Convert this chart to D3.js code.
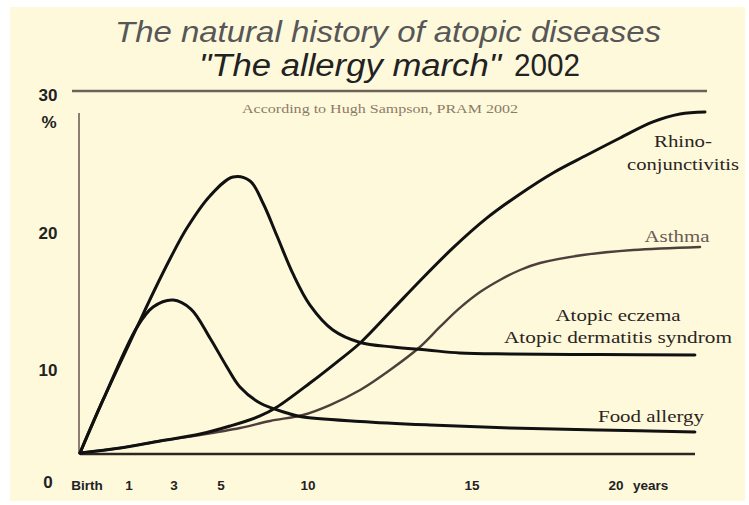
<!DOCTYPE html>
<html><head><meta charset="utf-8">
<script src="https://cdn.jsdelivr.net/npm/d3@7"></script>
<style>html,body{margin:0;padding:0;background:#fff;} svg{display:block}</style>
</head><body>
<svg id="c" width="749" height="505"></svg>
<script>
// ---- data ----
const ageTicks = [0, 1, 3, 5, 10, 15, 20];
const ageTickLabels = ["Birth", "1", "3", "5", "10", "15", "20"];
const pctTicks = [0, 10, 20, 30];
const pctTickLabels = ["0", "10", "20", "30"];

// [age in years, prevalence %]
const eczema = [[0,0],[0.47,6.39],[1.36,13.14],[2.07,15.62],[2.82,18.1],[3.55,20.35],[4.53,22.61],[5.69,23.94],[6.67,23.66],[7.41,22.11],[8.22,19.78],[9.14,17.01],[10.06,14.74],[10.76,12.92],[11.59,12.01],[12.59,11.68],[13.63,11.46],[14.63,11.24],[16.32,11.17],[19.44,11.13],[22.74,11.1]];
const foodAllergy = [[0,0],[0.47,6.39],[1.36,13.14],[2.07,14.6],[2.96,15.11],[3.72,14.45],[4.53,12.34],[5.34,10.22],[6.09,7.95],[7.24,6.02],[8.79,4.82],[9.54,4.4],[11.59,3.8],[13.72,3.37],[16.32,3.01],[19.44,2.77],[22.74,2.53]];
const rhino = [[0,0],[0.82,0.6],[2.38,1.45],[4.11,2.29],[5.52,3.25],[7.24,4.46],[8.22,5.54],[10.06,8.43],[10.88,10.58],[11.59,11.97],[12.59,14.45],[13.41,16.5],[14.42,18.91],[15.52,21.06],[16.67,22.75],[17.81,24.23],[18.99,25.49],[20.14,26.69],[21.28,27.82],[22.22,28.38],[23.09,28.52]];
const asthma = [[0,0],[0.82,0.6],[2.38,1.45],[4.11,2.17],[6.09,3.01],[7.82,3.86],[9.71,4.58],[10.67,5.78],[11.59,7.59],[12.5,10],[13.41,11.68],[14.02,13.14],[14.63,14.53],[15.28,15.69],[15.97,16.57],[16.67,17.3],[17.36,17.81],[18.85,18.39],[20.59,18.76],[22.92,18.98]];

const titleLine1 = "The natural history of atopic diseases";
const titleLine2a = "\"The allergy march\"";
const titleLine2b = "2002";
const subtitle = "According to Hugh Sampson, PRAM 2002";

// ---- scales ----
const svg = d3.select("#c");
const x = d3.scaleLinear().domain(ageTicks).range([80, 129, 174, 221, 308, 472, 616]);
const y = d3.scaleLinear().domain(pctTicks).range([453, 370, 233, 91]);

// background
svg.append("rect").attr("x", 0).attr("y", 0).attr("width", 749).attr("height", 505).attr("fill", "#ffffff");
svg.append("rect").attr("x", 10).attr("y", 7).attr("width", 735).attr("height", 494).attr("fill", "#fff9dc");

// titles
svg.append("text").attr("x", 388).attr("y", 42).attr("text-anchor", "middle")
  .attr("font-family", "Liberation Sans, Arial, sans-serif").attr("font-style", "italic")
  .attr("font-size", 30).attr("fill", "#575757")
  .attr("textLength", 546).attr("lengthAdjust", "spacingAndGlyphs").text(titleLine1);
svg.append("text").attr("x", 350).attr("y", 76).attr("text-anchor", "middle")
  .attr("font-family", "Liberation Sans, Arial, sans-serif").attr("font-style", "italic")
  .attr("font-size", 31).attr("fill", "#222")
  .attr("textLength", 302).attr("lengthAdjust", "spacingAndGlyphs").text(titleLine2a);
svg.append("text").attr("x", 547).attr("y", 76).attr("text-anchor", "middle")
  .attr("font-family", "Liberation Sans, Arial, sans-serif")
  .attr("font-size", 31).attr("fill", "#222")
  .attr("textLength", 66).attr("lengthAdjust", "spacingAndGlyphs").text(titleLine2b);

// top rule at 30%
svg.append("line").attr("x1", 72).attr("x2", 707).attr("y1", y(30)).attr("y2", y(30))
  .attr("stroke", "#6e6258").attr("stroke-width", 2.5);

svg.append("text").attr("x", 380).attr("y", 113).attr("text-anchor", "middle")
  .attr("font-family", "Liberation Serif, Times New Roman, serif")
  .attr("font-size", 12.5).attr("fill", "#8d7b66")
  .attr("textLength", 276).attr("lengthAdjust", "spacingAndGlyphs").text(subtitle);

// y axis line
svg.append("line").attr("x1", 79).attr("x2", 79).attr("y1", 113).attr("y2", y(0))
  .attr("stroke", "#8c7f72").attr("stroke-width", 2);
// baseline
svg.append("line").attr("x1", x(0)).attr("x2", 695).attr("y1", y(0) + 1).attr("y2", y(0) + 1)
  .attr("stroke", "#2e2620").attr("stroke-width", 2.5);

// y tick labels
const yl = svg.append("g").attr("font-family", "Liberation Sans, Arial, sans-serif")
  .attr("font-weight", "bold").attr("font-size", 17).attr("fill", "#222").attr("text-anchor", "middle");
pctTicks.forEach((v, i) => {
  const ty = v === 0 ? 482 : (v === 30 ? y(v) + 4 : y(v));
  yl.append("text").attr("x", 48).attr("y", ty).attr("dy", "0.36em").text(pctTickLabels[i]);
});
yl.append("text").attr("x", 49).attr("y", y(30) + 31).attr("dy", "0.36em").text("%");

// x tick labels
const xl = svg.append("g").attr("font-family", "Liberation Sans, Arial, sans-serif")
  .attr("font-weight", "bold").attr("font-size", 13.5).attr("fill", "#222").attr("text-anchor", "middle");
ageTicks.forEach((a, i) => {
  xl.append("text").attr("x", x(a) + (a === 0 ? 7 : 0)).attr("y", 490).text(ageTickLabels[i]);
});
xl.append("text").attr("x", x(20) + 17).attr("y", 490).attr("text-anchor", "start").text("years");

// curves
const line = d3.line().x(d => x(d[0])).y(d => y(d[1])).curve(d3.curveCatmullRom.alpha(0.5));
const curves = [
  {data: asthma, color: "#4e3f3a", w: 2.4},
  {data: rhino, color: "#111", w: 3},
  {data: foodAllergy, color: "#111", w: 3},
  {data: eczema, color: "#111", w: 3}
];
svg.append("g").selectAll("path").data(curves).join("path")
  .attr("d", d => line(d.data)).attr("fill", "none")
  .attr("stroke", d => d.color).attr("stroke-width", d => d.w)
  .attr("stroke-linejoin", "round").attr("stroke-linecap", "round");

// curve labels
const labels = [
  {t: "Rhino-", x: 683, y: 147, len: 58, c: "#2a2421"},
  {t: "conjunctivitis", x: 683, y: 170, len: 112, c: "#2a2421"},
  {t: "Asthma", x: 677, y: 242, len: 65, c: "#6a5a55"},
  {t: "Atopic eczema", x: 618, y: 321, len: 125, c: "#2a2421"},
  {t: "Atopic dermatitis syndrom", x: 618, y: 343, len: 228, c: "#2a2421"},
  {t: "Food allergy", x: 651, y: 422, len: 106, c: "#2a2421"}
];
svg.append("g").selectAll("text").data(labels).join("text")
  .attr("x", d => d.x).attr("y", d => d.y).attr("text-anchor", "middle")
  .attr("font-family", "Liberation Serif, Times New Roman, serif").attr("font-size", 17.5)
  .attr("fill", d => d.c).attr("textLength", d => d.len).attr("lengthAdjust", "spacingAndGlyphs")
  .text(d => d.t);
</script>
</body></html>
